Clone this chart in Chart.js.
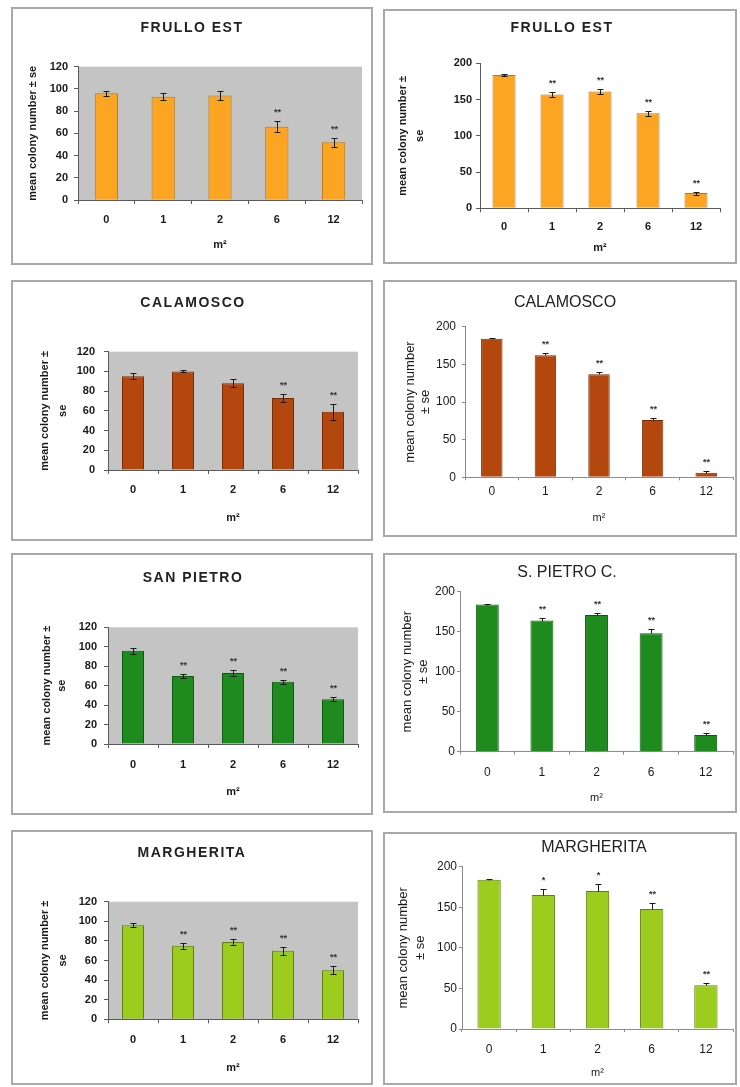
<!DOCTYPE html>
<html>
<head>
<meta charset="utf-8">
<script src="https://cdn.jsdelivr.net/npm/chart.js@4.4.1/dist/chart.umd.min.js"></script>
<style>
  html, body { margin: 0; padding: 0; background: #fff; width: 740px; height: 1087px; overflow: hidden; }
  .frame { position: absolute; box-sizing: border-box; border: 2px solid #a9a9a9; }
  canvas { position: absolute; }
</style>
</head>
<body>
<script>
// Exposure time categories (x axis)
const doses = ['0', '1', '2', '6', '12'];

// Mean colony number and standard error, per site and assay
const frulloA = [96, 93, 94, 66, 52];
const frulloASe = [2, 3, 4, 5, 4];
const frulloASig = ['', '', '', '**', '**'];

const frulloB = [184, 157, 161, 131, 21];
const frulloBSe = [1, 4, 3, 3, 2];
const frulloBSig = ['', '**', '**', '**', '**'];

const calamoscoA = [95, 100, 88, 73, 59];
const calamoscoASe = [3, 1, 4, 4, 8];
const calamoscoASig = ['', '', '', '**', '**'];

const calamoscoB = [184, 162, 137, 76, 6];
const calamoscoBSe = [1, 3, 3, 3, 2];
const calamoscoBSig = ['', '**', '**', '**', '**'];

const pietroA = [96, 70, 73, 64, 46];
const pietroASe = [3, 2, 3, 2, 2];
const pietroASig = ['', '**', '**', '**', '**'];

const pietroB = [184, 164, 171, 148, 21];
const pietroBSe = [1, 3, 3, 5, 2];
const pietroBSig = ['', '**', '**', '**', '**'];

const margheritaA = [96, 75, 79, 70, 50];
const margheritaASe = [2, 3, 3, 4, 4];
const margheritaASig = ['', '**', '**', '**', '**'];

const margheritaB = [184, 165, 170, 148, 54];
const margheritaBSe = [1, 7, 9, 7, 3];
const margheritaBSig = ['', '*', '*', '**', '**'];

// Axis ranges
const yMaxA = 120, yStepA = 20;
const yMaxB = 200, yStepB = 50;

const FONT = '"Liberation Sans", Arial, sans-serif';

// Gray plot-area fill (spreadsheet style panels)
const plotBackground = {
  id: 'plotBackground',
  beforeDraw(chart, args, opts) {
    if (!opts.color) return;
    const { ctx, chartArea: a } = chart;
    ctx.save();
    ctx.fillStyle = opts.color;
    ctx.fillRect(a.left, a.top, a.right - a.left, a.bottom - a.top);
    ctx.restore();
  }
};

// ± se whiskers and significance stars above each bar
const errorBars = {
  id: 'errorBars',
  afterDatasetsDraw(chart, args, opts) {
    const meta = chart.getDatasetMeta(0);
    const ys = chart.scales.y;
    const vals = chart.data.datasets[0].data;
    const ctx = chart.ctx;
    ctx.save();
    ctx.strokeStyle = opts.color;
    ctx.lineWidth = 1;
    meta.data.forEach((bar, i) => {
      const v = vals[i], e = opts.se[i];
      const x = Math.round(bar.x) + 0.5;
      const yHi = Math.round(ys.getPixelForValue(v + e)) + 0.5;
      const yLo = Math.round(ys.getPixelForValue(opts.lower ? v - e : v)) + 0.5;
      ctx.beginPath();
      ctx.moveTo(x, yLo); ctx.lineTo(x, yHi);
      ctx.moveTo(x - opts.cap, yHi); ctx.lineTo(x + opts.cap, yHi);
      if (opts.lower) { ctx.moveTo(x - opts.cap, yLo); ctx.lineTo(x + opts.cap, yLo); }
      ctx.stroke();
      const s = opts.marks[i];
      if (s) {
        ctx.fillStyle = opts.markColor;
        ctx.font = opts.markFont;
        ctx.textAlign = 'center';
        ctx.textBaseline = 'bottom';
        ctx.fillText(s, x, yHi - opts.markGap);
      }
    });
    ctx.restore();
  }
};

// Panel heading
const panelTitle = {
  id: 'panelTitle',
  afterDraw(chart, args, opts) {
    const ctx = chart.ctx;
    ctx.save();
    ctx.font = opts.font;
    ctx.fillStyle = opts.color;
    ctx.textAlign = 'center';
    ctx.textBaseline = 'middle';
    if ('letterSpacing' in ctx) ctx.letterSpacing = opts.spacing || '0px';
    ctx.fillText(opts.text, opts.x, opts.y);
    ctx.restore();
  }
};

Chart.register(plotBackground, errorBars, panelTitle);

// Palette per site
const ORANGE = { fill: '#FBA522', edge: '#B97818' };
const BROWN = { fill: '#B4470E', edge: '#7A2E08' };
const GREEN = { fill: '#1F8B1F', edge: '#0F5C0F' };
const LIME = { fill: '#9CCC1E', edge: '#5F8012' };

// Panel layout: frame box, plot area, text positions (page pixels)
const panels = [
  { title: 'FRULLO EST', style: 'A', mean: frulloA, se: frulloASe, sig: frulloASig, pal: ORANGE,
    box: [11, 7, 362, 258], plot: [78, 66.7, 362, 200], titleXY: [192, 28],
    yTitle: ['mean colony number ± se'], yTitleX: 33, yTitleGap: 12, yPad: 6,
    xLabelY: 220, m2Y: 245, bar: 0.41 },
  { title: 'FRULLO EST', style: 'A2', mean: frulloB, se: frulloBSe, sig: frulloBSig, pal: ORANGE,
    box: [383, 9, 354, 255], plot: [480, 63.3, 720, 208.3], titleXY: [562, 28],
    yTitle: ['mean colony number ±', 'se'], yTitleX: 403, yTitleGap: 17, yPad: 4,
    xLabelY: 227, m2Y: 248, bar: 0.48 },
  { title: 'CALAMOSCO', style: 'A', mean: calamoscoA, se: calamoscoASe, sig: calamoscoASig, pal: BROWN,
    box: [11, 280, 362, 261], plot: [108, 351.7, 358, 470], titleXY: [193, 303],
    yTitle: ['mean colony number ±', 'se'], yTitleX: 45, yTitleGap: 18, yPad: 9,
    xLabelY: 490, m2Y: 518, bar: 0.44 },
  { title: 'CALAMOSCO', style: 'B', mean: calamoscoB, se: calamoscoBSe, sig: calamoscoBSig, pal: BROWN,
    box: [383, 280, 354, 257], plot: [465, 326.7, 733, 477.3], titleXY: [565, 303],
    yTitle: ['mean colony number', '± se'], yTitleX: 410, yTitleGap: 15, yPad: 6,
    xLabelY: 492, m2Y: 518, bar: 0.40 },
  { title: 'SAN PIETRO', style: 'A', mean: pietroA, se: pietroASe, sig: pietroASig, pal: GREEN,
    box: [11, 553, 362, 262], plot: [108, 627.3, 358, 744], titleXY: [193, 578],
    yTitle: ['mean colony number ±', 'se'], yTitleX: 47, yTitleGap: 15, yPad: 7,
    xLabelY: 765, m2Y: 792, bar: 0.44 },
  { title: 'S. PIETRO C.', style: 'B', mean: pietroB, se: pietroBSe, sig: pietroBSig, pal: GREEN,
    box: [383, 553, 354, 260], plot: [460, 591.7, 733, 751.7], titleXY: [567, 573],
    yTitle: ['mean colony number', '± se'], yTitleX: 407, yTitleGap: 16, yPad: 2,
    xLabelY: 773, m2Y: 798, bar: 0.42 },
  { title: 'MARGHERITA', style: 'A', mean: margheritaA, se: margheritaASe, sig: margheritaASig, pal: LIME,
    box: [11, 830, 362, 255], plot: [108, 901.7, 358, 1019.3], titleXY: [192, 853],
    yTitle: ['mean colony number ±', 'se'], yTitleX: 45, yTitleGap: 18, yPad: 7,
    xLabelY: 1040, m2Y: 1068, bar: 0.44 },
  { title: 'MARGHERITA', style: 'B', mean: margheritaB, se: margheritaBSe, sig: margheritaBSig, pal: LIME,
    box: [383, 832, 354, 253], plot: [462, 866.7, 733, 1029], titleXY: [594, 848],
    yTitle: ['mean colony number', '± se'], yTitleX: 403, yTitleGap: 17, yPad: 2,
    xLabelY: 1050, m2Y: 1073, bar: 0.43 }
];

panels.forEach((p) => {
  const [bx, by, bw, bh] = p.box;
  const [pl, pt, pr, pb] = p.plot;
  const gray = p.style === 'A';
  // spreadsheet-style axes (left column and first right panel)
  const excel = p.style === 'A' || p.style === 'A2';

  const frame = document.createElement('div');
  frame.className = 'frame';
  Object.assign(frame.style, { left: bx + 'px', top: by + 'px', width: bw + 'px', height: bh + 'px' });
  document.body.appendChild(frame);

  const cv = document.createElement('canvas');
  cv.width = bw; cv.height = bh;
  Object.assign(cv.style, { left: bx + 'px', top: by + 'px', width: bw + 'px', height: bh + 'px' });
  document.body.appendChild(cv);

  const leftScale = p.style === 'A';
  const yMax = leftScale ? yMaxA : yMaxB;
  const yStep = leftScale ? yStepA : yStepB;
  const axisColor = excel ? '#5a5a5a' : '#8a8a9c';
  const tickFont = excel ? { family: FONT, size: 11, weight: 'bold' } : { family: FONT, size: 12 };
  const tickLen = excel ? 4 : 3;
  const labelLH = tickFont.size * 1.2;
  const yTitleFont = excel
    ? { family: FONT, size: 11, weight: 'bold', lineHeight: p.yTitleGap + 'px' }
    : { family: FONT, size: 13, lineHeight: p.yTitleGap + 'px' };

  new Chart(cv, {
    type: 'bar',
    data: {
      labels: doses,
      datasets: [{
        data: p.mean,
        backgroundColor: p.pal.fill,
        borderColor: p.pal.edge,
        borderWidth: 1,
        barPercentage: p.bar,
        categoryPercentage: 1
      }]
    },
    options: {
      responsive: false,
      animation: false,
      devicePixelRatio: 1,
      layout: { padding: { left: 0, top: pt - by, right: (bx + bw) - pr, bottom: 0 } },
      plugins: {
        legend: { display: false },
        tooltip: { enabled: false },
        title: { display: false },
        plotBackground: { color: gray ? '#C4C4C4' : null },
        errorBars: {
          se: p.se, marks: p.sig, color: '#1a1a1a', cap: 3, lower: excel,
          markColor: '#333', markFont: 'bold 9px ' + FONT, markGap: 4
        },
        panelTitle: {
          text: p.title, x: p.titleXY[0] - bx, y: p.titleXY[1] - by,
          font: (excel ? 'bold 14px ' : '16px ') + FONT, color: '#222',
          spacing: excel ? '1.5px' : '0px'
        }
      },
      scales: {
        x: {
          grid: { offset: true, drawOnChartArea: false, drawTicks: true, tickLength: tickLen, color: axisColor },
          border: { display: true, color: axisColor, width: 1 },
          ticks: { font: tickFont, color: '#1a1a1a', padding: p.xLabelY - pb - tickLen - labelLH / 2, maxRotation: 0 },
          title: {
            display: true, text: 'm²', color: '#1a1a1a',
            font: { family: FONT, size: 11, weight: excel ? 'bold' : 'normal', lineHeight: 1.2 },
            padding: { top: 0, bottom: (by + bh) - p.m2Y - 6.6 }
          },
          afterFit(s) { s.height = (by + bh) - pb; }
        },
        y: {
          min: 0, max: yMax,
          ticks: { stepSize: yStep, font: tickFont, color: '#1a1a1a', padding: p.yPad },
          grid: { drawOnChartArea: false, drawTicks: true, tickLength: tickLen, color: axisColor },
          border: { display: true, color: axisColor, width: 1 },
          title: {
            display: true, text: p.yTitle, color: '#1a1a1a', font: yTitleFont,
            padding: { top: p.yTitleX - bx - p.yTitleGap / 2, bottom: 0 }
          },
          afterFit(s) { s.width = pl - bx; }
        }
      }
    }
  });
});
</script>
</body>
</html>
